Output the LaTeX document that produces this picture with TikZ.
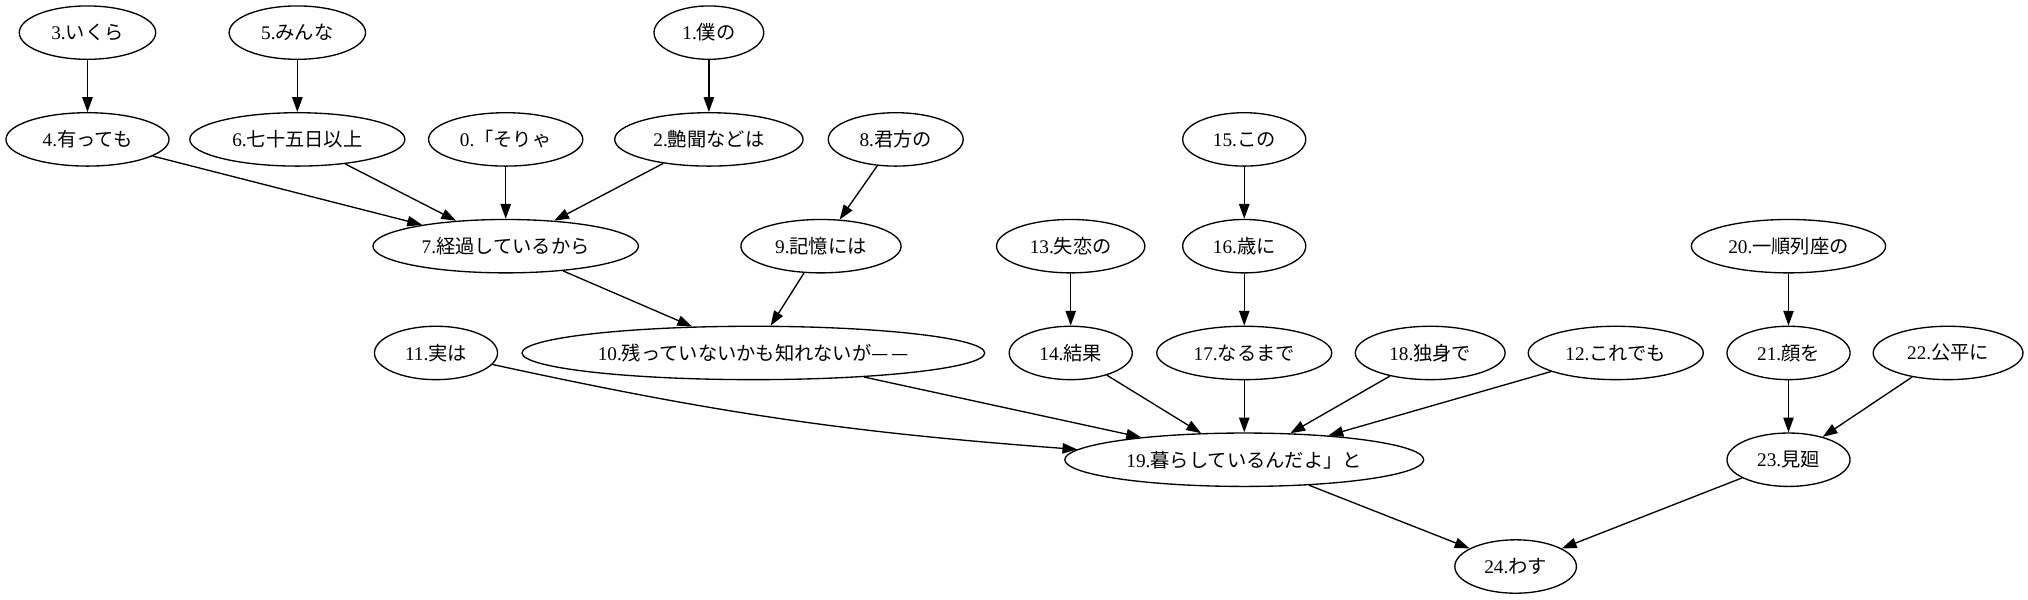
\documentclass[tikz,border=0pt]{standalone}
\usepackage{fontspec}
\setmainfont{Liberation Serif}
\newfontfamily\jp{Noto Sans CJK JP}
\usetikzlibrary{shapes.geometric,arrows.meta}

\begin{document}
\begin{tikzpicture}[x=1pt, y=-1pt, line width=0.9pt,
  tok/.style={draw, ellipse, inner sep=0pt, minimum height=36pt, font=\fontsize{13}{15}\selectfont},
  dep/.style={-{Triangle[length=10pt, width=7pt]}}]

\useasboundingbox (0,0) rectangle (1367.5,404);

\node (w3) at (59, 22) [tok, minimum width=92pt] {3.{\jp いくら}};
\node (w5) at (200.5, 22) [tok, minimum width=92pt] {5.{\jp みんな}};
\node (w1) at (478, 22) [tok, minimum width=74pt] {1.{\jp 僕の}};

\node (w4) at (59, 94) [tok, minimum width=110pt] {4.{\jp 有っても}};
\node (w6) at (200.5, 94) [tok, minimum width=145pt] {6.{\jp 七十五日以上}};
\node (w0) at (341, 94) [tok, minimum width=104pt] {0.{\jp 「そりゃ}};
\node (w2) at (478, 94) [tok, minimum width=127pt] {2.{\jp 艶聞などは}};
\node (w8) at (604, 94) [tok, minimum width=91pt] {8.{\jp 君方の}};
\node (w15) at (839, 94) [tok, minimum width=83pt] {15.{\jp この}};

\node (w7) at (341, 166) [tok, minimum width=179pt] {7.{\jp 経過しているから}};
\node (w9) at (553.6, 166) [tok, minimum width=108pt] {9.{\jp 記憶には}};
\node (w13) at (722, 166) [tok, minimum width=100pt] {13.{\jp 失恋の}};
\node (w16) at (839, 166) [tok, minimum width=83pt] {16.{\jp 歳に}};
\node (w20) at (1206, 166) [tok, minimum width=131pt] {20.{\jp 一順列座の}};

\node (w11) at (294, 238) [tok, minimum width=83pt] {11.{\jp 実は}};
\node (w10) at (508, 238) [tok, minimum width=312pt] {10.{\jp 残っていないかも知れないが—\hspace{2pt}—}};
\node (w14) at (722, 238) [tok, minimum width=83pt] {14.{\jp 結果}};
\node (w17) at (839, 238) [tok, minimum width=118pt] {17.{\jp なるまで}};
\node (w18) at (964.4, 238) [tok, minimum width=101pt] {18.{\jp 独身で}};
\node (w12) at (1089.5, 238) [tok, minimum width=118pt] {12.{\jp これでも}};
\node (w21) at (1206, 238) [tok, minimum width=83pt] {21.{\jp 顔を}};
\node (w22) at (1313.6, 238) [tok, minimum width=101pt] {22.{\jp 公平に}};

\node (w19) at (839, 310) [tok, minimum width=242pt] {19.{\jp 暮らしているんだよ」と}};
\node (w23) at (1206, 310) [tok, minimum width=83pt] {23.{\jp 見廻}};

\node (w24) at (1022, 382) [tok, minimum width=82pt] {24.{\jp わす}};

\draw[dep] (w3) -- (w4);
\draw[dep] (w5) -- (w6);
\draw[dep] (w1) -- (w2);
\draw[dep] (w4) -- (w7);
\draw[dep] (w6) -- (w7);
\draw[dep] (w0) -- (w7);
\draw[dep] (w2) -- (w7);
\draw[dep] (w8) -- (w9);
\draw[dep] (w15) -- (w16);
\draw[dep] (w7) -- (w10);
\draw[dep] (w9) -- (w10);
\draw[dep] (w13) -- (w14);
\draw[dep] (w16) -- (w17);
\draw[dep] (w20) -- (w21);
\draw[dep] (w11) to[bend right=4] (w19);
\draw[dep] (w10) -- (w19);
\draw[dep] (w14) -- (w19);
\draw[dep] (w17) -- (w19);
\draw[dep] (w18) -- (w19);
\draw[dep] (w12) -- (w19);
\draw[dep] (w21) -- (w23);
\draw[dep] (w22) -- (w23);
\draw[dep] (w19) -- (w24);
\draw[dep] (w23) -- (w24);

\end{tikzpicture}
\end{document}
